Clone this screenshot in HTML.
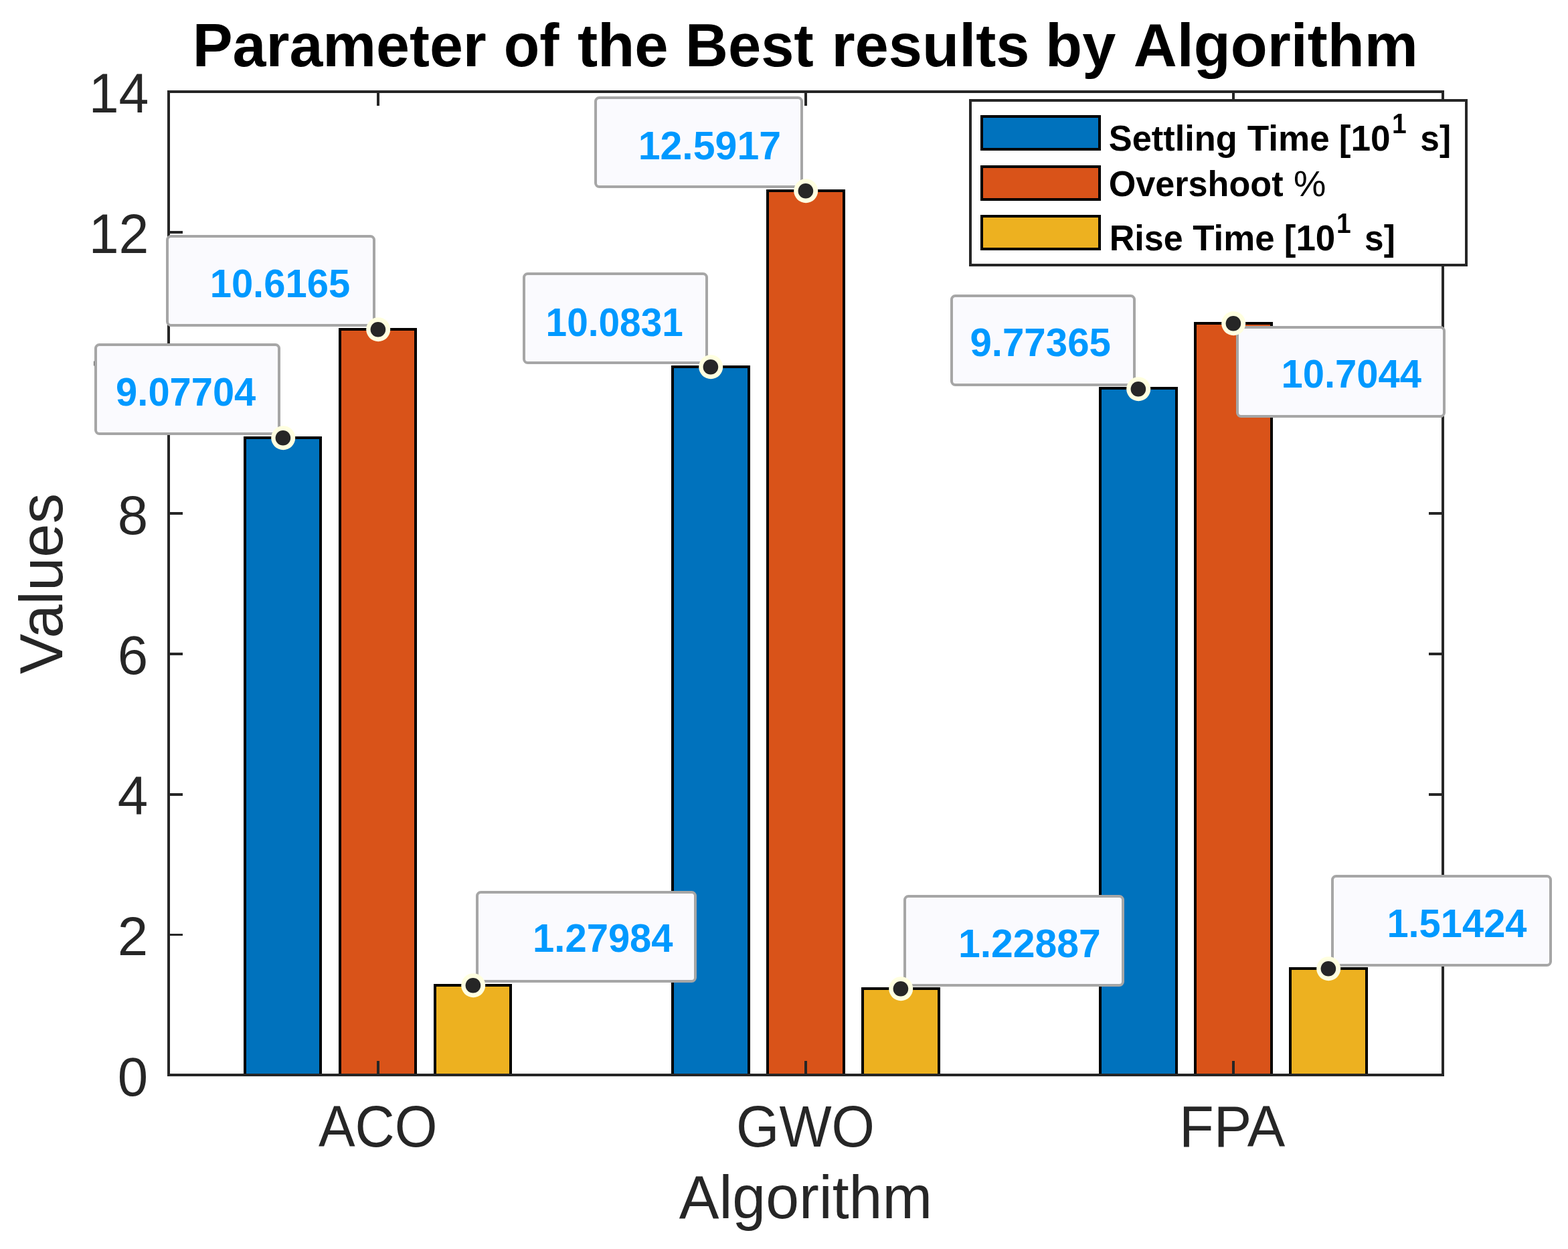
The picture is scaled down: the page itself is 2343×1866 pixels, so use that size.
<!DOCTYPE html>
<html lang="en">
<head>
<meta charset="utf-8">
<title>Parameter of the Best results by Algorithm</title>
<style>
html,body{margin:0;padding:0;background:#fff;}
body{width:2343px;height:1866px;}
svg{display:block;}
text{font-family:"Liberation Sans", "DejaVu Sans", sans-serif;}
.tick{font-size:83.33px;fill:#262626;}
.lab{font-size:91.67px;fill:#262626;}
.title{font-size:91.67px;font-weight:bold;fill:#000;}
.leg{font-size:53.00px;font-weight:bold;fill:#000;}
.pct{font-size:53.00px;font-weight:normal;fill:#000;}
.sup{font-size:42.00px;font-weight:bold;fill:#000;}
.tip{font-size:58.33px;font-weight:bold;fill:#0099FF;}
</style>
</head>
<body>
<svg width="2343" height="1866" viewBox="0 0 2343 1866" role="img" aria-label="Parameter of the Best results by Algorithm">
<defs><clipPath id="clip10"><rect x="100" y="500" width="150" height="60"/></clipPath></defs>
<rect x="0" y="0" width="2343" height="1866" fill="#ffffff"/>
<g stroke="#000000" stroke-width="4" stroke-linejoin="miter">
<rect x="366" y="654" width="113" height="952" fill="#0072BD"/>
<rect x="508" y="492" width="113" height="1114" fill="#D95319"/>
<rect x="650" y="1472" width="113" height="134" fill="#EDB120"/>
<rect x="1005" y="548" width="114" height="1058" fill="#0072BD"/>
<rect x="1147" y="285" width="114" height="1321" fill="#D95319"/>
<rect x="1289" y="1477" width="114" height="129" fill="#EDB120"/>
<rect x="1644" y="580" width="114" height="1026" fill="#0072BD"/>
<rect x="1786" y="483" width="114" height="1123" fill="#D95319"/>
<rect x="1928" y="1447" width="114" height="159" fill="#EDB120"/>
</g>
<g stroke="#262626" stroke-width="4" fill="none" stroke-linecap="butt">
<rect x="252.0" y="137.0" width="1904.0" height="1469.0"/>
<line x1="565" y1="1606" x2="565" y2="1585"/>
<line x1="565" y1="137" x2="565" y2="158"/>
<line x1="1204" y1="1606" x2="1204" y2="1585"/>
<line x1="1204" y1="137" x2="1204" y2="158"/>
<line x1="1843" y1="1606" x2="1843" y2="1585"/>
<line x1="1843" y1="137" x2="1843" y2="158"/>
<line x1="252" y1="1606" x2="273" y2="1606" stroke-width="4"/>
<line x1="2156" y1="1606" x2="2135" y2="1606" stroke-width="4"/>
<line x1="252" y1="1396.5" x2="273" y2="1396.5" stroke-width="3"/>
<line x1="2156" y1="1396.5" x2="2135" y2="1396.5" stroke-width="3"/>
<line x1="252" y1="1187" x2="273" y2="1187" stroke-width="4"/>
<line x1="2156" y1="1187" x2="2135" y2="1187" stroke-width="4"/>
<line x1="252" y1="977" x2="273" y2="977" stroke-width="4"/>
<line x1="2156" y1="977" x2="2135" y2="977" stroke-width="4"/>
<line x1="252" y1="767" x2="273" y2="767" stroke-width="4"/>
<line x1="2156" y1="767" x2="2135" y2="767" stroke-width="4"/>
<line x1="252" y1="557" x2="273" y2="557" stroke-width="4"/>
<line x1="2156" y1="557" x2="2135" y2="557" stroke-width="4"/>
<line x1="252" y1="347" x2="273" y2="347" stroke-width="4"/>
<line x1="2156" y1="347" x2="2135" y2="347" stroke-width="4"/>
<line x1="252" y1="137" x2="273" y2="137" stroke-width="4"/>
<line x1="2156" y1="137" x2="2135" y2="137" stroke-width="4"/>
</g>
<text class="tick" transform="matrix(0.98000 0 0 0.98000 175.80 1637.00)">0</text>
<text class="tick" transform="matrix(0.98000 0 0 0.98000 175.80 1427.14)">2</text>
<text class="tick" transform="matrix(0.98000 0 0 0.98000 175.80 1217.29)">4</text>
<text class="tick" transform="matrix(0.98000 0 0 0.98000 175.80 1007.43)">6</text>
<text class="tick" transform="matrix(0.98000 0 0 0.98000 175.80 797.57)">8</text>
<g clip-path="url(#clip10)">
<text class="tick" transform="matrix(0.97538 0 0 0.99000 132.50 587.71)">10</text>
</g>
<text class="tick" transform="matrix(0.96700 0 0 0.99000 132.70 377.86)">12</text>
<text class="tick" transform="matrix(0.96700 0 0 0.99000 132.70 168.00)">14</text>
<text class="tick" transform="matrix(0.98326 0 0 1.04500 475.95 1713.00)">ACO</text>
<text class="tick" transform="matrix(0.99300 0 0 1.04500 1100.08 1713.00)">GWO</text>
<text class="tick" transform="matrix(1.01611 0 0 1.04500 1761.94 1713.00)">FPA</text>
<text class="lab" transform="matrix(0.97728 0 0 1.00000 1014.66 1819.60)">Algorithm</text>
<text class="lab" transform="matrix(0 -0.98832 1.00000 0 92.50 1007.29)">Values</text>
<text class="title"><tspan x="287.68" y="99.00" textLength="439.08" lengthAdjust="spacingAndGlyphs">Parameter</tspan> <tspan x="752.65" y="99.00" textLength="82.72" lengthAdjust="spacingAndGlyphs">of</tspan> <tspan x="863.01" y="99.00" textLength="135.68" lengthAdjust="spacingAndGlyphs">the</tspan> <tspan x="1024.07" y="99.00" textLength="191.76" lengthAdjust="spacingAndGlyphs">Best</tspan> <tspan x="1242.39" y="99.00" textLength="296.18" lengthAdjust="spacingAndGlyphs">results</tspan> <tspan x="1562.10" y="99.00" textLength="105.16" lengthAdjust="spacingAndGlyphs">by</tspan> <tspan x="1693.69" y="99.00" textLength="425.09" lengthAdjust="spacingAndGlyphs">Algorithm</tspan></text>
<rect x="1450.0" y="150.0" width="741.0" height="246.0" fill="#ffffff" stroke="#262626" stroke-width="4"/>
<rect x="1467.0" y="174.0" width="176.0" height="49.0" fill="#0072BD" stroke="#000000" stroke-width="4"/>
<rect x="1467.0" y="249.0" width="176.0" height="49.0" fill="#D95319" stroke="#000000" stroke-width="4"/>
<rect x="1467.0" y="323.0" width="176.0" height="49.0" fill="#EDB120" stroke="#000000" stroke-width="4"/>
<text class="leg"><tspan x="1656.72" y="225.30" textLength="192.12" lengthAdjust="spacingAndGlyphs">Settling</tspan> <tspan x="1863.80" y="225.30" textLength="122.85" lengthAdjust="spacingAndGlyphs">Time</tspan> <tspan x="2000.69" y="225.30" textLength="76.93" lengthAdjust="spacingAndGlyphs">[10</tspan> <tspan class="sup" x="2080.04" y="199.20" textLength="21.72" lengthAdjust="spacingAndGlyphs">1</tspan> <tspan x="2122.36" y="225.30" textLength="45.75" lengthAdjust="spacingAndGlyphs">s]</tspan></text>
<text class="leg"><tspan x="1656.69" y="293.40" textLength="260.87" lengthAdjust="spacingAndGlyphs">Overshoot</tspan> <tspan class="pct" x="1932.95" y="293.40" textLength="48.39" lengthAdjust="spacingAndGlyphs">%</tspan></text>
<text class="leg"><tspan x="1657.66" y="374.30" textLength="110.01" lengthAdjust="spacingAndGlyphs">Rise</tspan> <tspan x="1782.20" y="374.30" textLength="122.44" lengthAdjust="spacingAndGlyphs">Time</tspan> <tspan x="1918.80" y="374.30" textLength="76.50" lengthAdjust="spacingAndGlyphs">[10</tspan> <tspan class="sup" x="1997.04" y="348.20" textLength="21.72" lengthAdjust="spacingAndGlyphs">1</tspan> <tspan x="2039.06" y="374.30" textLength="45.75" lengthAdjust="spacingAndGlyphs">s]</tspan></text>
<rect x="143" y="515" width="274" height="133" rx="5.5" ry="5.5" fill="#FAFAFE" stroke="#A6A6A6" stroke-width="4"/>
<text class="tip" transform="matrix(0.99233 0 0 1.00000 173.12 605.60)">9.07704</text>
<circle cx="423.2" cy="654.2" r="18" fill="#FFFFE0"/>
<circle cx="422.9" cy="654.2" r="11.3" fill="#262626"/>
<rect x="250" y="353" width="309" height="133" rx="5.5" ry="5.5" fill="#FAFAFE" stroke="#A6A6A6" stroke-width="4"/>
<text class="tip" transform="matrix(0.99367 0 0 1.00000 313.67 443.50)">10.6165</text>
<circle cx="565.2" cy="492.2" r="18" fill="#FFFFE0"/>
<circle cx="564.9" cy="492.2" r="11.3" fill="#262626"/>
<rect x="713" y="1333" width="326" height="133" rx="5.5" ry="5.5" fill="#FAFAFE" stroke="#A6A6A6" stroke-width="4"/>
<text class="tip" transform="matrix(0.99395 0 0 1.00000 796.07 1421.90)">1.27984</text>
<circle cx="707.2" cy="1472.2" r="18" fill="#FFFFE0"/>
<circle cx="706.9" cy="1472.2" r="11.3" fill="#262626"/>
<rect x="783" y="409" width="273" height="133" rx="5.5" ry="5.5" fill="#FAFAFE" stroke="#A6A6A6" stroke-width="4"/>
<text class="tip" transform="matrix(0.97372 0 0 1.00000 815.55 501.50)">10.0831</text>
<circle cx="1062.2" cy="548.2" r="18" fill="#FFFFE0"/>
<circle cx="1061.9" cy="548.2" r="11.3" fill="#262626"/>
<rect x="890" y="146" width="308" height="133" rx="5.5" ry="5.5" fill="#FAFAFE" stroke="#A6A6A6" stroke-width="4"/>
<text class="tip" transform="matrix(1.01222 0 0 1.00000 953.70 237.90)">12.5917</text>
<circle cx="1204.2" cy="285.2" r="18" fill="#FFFFE0"/>
<circle cx="1203.9" cy="285.2" r="11.3" fill="#262626"/>
<rect x="1352" y="1339" width="326" height="133" rx="5.5" ry="5.5" fill="#FAFAFE" stroke="#A6A6A6" stroke-width="4"/>
<text class="tip" transform="matrix(1.00978 0 0 1.00000 1431.91 1430.30)">1.22887</text>
<circle cx="1346.2" cy="1477.2" r="18" fill="#FFFFE0"/>
<circle cx="1345.9" cy="1477.2" r="11.3" fill="#262626"/>
<rect x="1422" y="442" width="273" height="133" rx="5.5" ry="5.5" fill="#FAFAFE" stroke="#A6A6A6" stroke-width="4"/>
<text class="tip" transform="matrix(0.99879 0 0 1.00000 1449.40 532.10)">9.77365</text>
<circle cx="1701.2" cy="581.2" r="18" fill="#FFFFE0"/>
<circle cx="1700.9" cy="581.2" r="11.3" fill="#262626"/>
<rect x="1849" y="489" width="309" height="133" rx="5.5" ry="5.5" fill="#FAFAFE" stroke="#A6A6A6" stroke-width="4"/>
<text class="tip" transform="matrix(0.99347 0 0 1.00000 1914.47 579.40)">10.7044</text>
<circle cx="1843.2" cy="483.2" r="18" fill="#FFFFE0"/>
<circle cx="1842.9" cy="483.2" r="11.3" fill="#262626"/>
<rect x="1991" y="1309" width="326" height="133" rx="5.5" ry="5.5" fill="#FAFAFE" stroke="#A6A6A6" stroke-width="4"/>
<text class="tip" transform="matrix(0.99202 0 0 1.00000 2072.38 1400.10)">1.51424</text>
<circle cx="1985.2" cy="1447.2" r="18" fill="#FFFFE0"/>
<circle cx="1984.9" cy="1447.2" r="11.3" fill="#262626"/>
</svg>
</body>
</html>
